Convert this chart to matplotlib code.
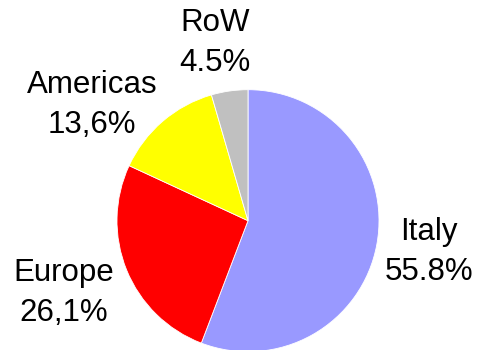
import matplotlib
matplotlib.use("Agg")
import matplotlib.pyplot as plt

regions = ["Italy", "Europe", "Americas", "RoW"]
shares = [55.8, 26.1, 13.6, 4.5]
share_labels = ["55.8%", "26,1%", "13,6%", "4.5%"]
colors = ["#9999FF", "#FF0000", "#FFFF00", "#C0C0C0"]

# label centres in pixel coords (x, y from top)
label_pos = [(429, 252), (64, 293), (92, 105), (215, 43)]

W, H = 479, 350
fig = plt.figure(figsize=(W / 100, H / 100), dpi=100)
ax = fig.add_axes([0, 0, 1, 1])

cx, cy, r = 248, H - 220.7, 131
ax.pie(shares, colors=colors, startangle=90, counterclock=False,
       center=(cx, cy), radius=r, frame=True,
       wedgeprops=dict(edgecolor="white", linewidth=0.6))
ax.set_xlim(0, W)
ax.set_ylim(0, H)
ax.axis("off")

for name, pct, (x, y) in zip(regions, share_labels, label_pos):
    ax.text(x, H - y, f"{name}\n{pct}", ha="center", va="center",
            fontsize=22.5, family="Liberation Sans", linespacing=1.42)

fig.savefig("out.png", dpi=100)
